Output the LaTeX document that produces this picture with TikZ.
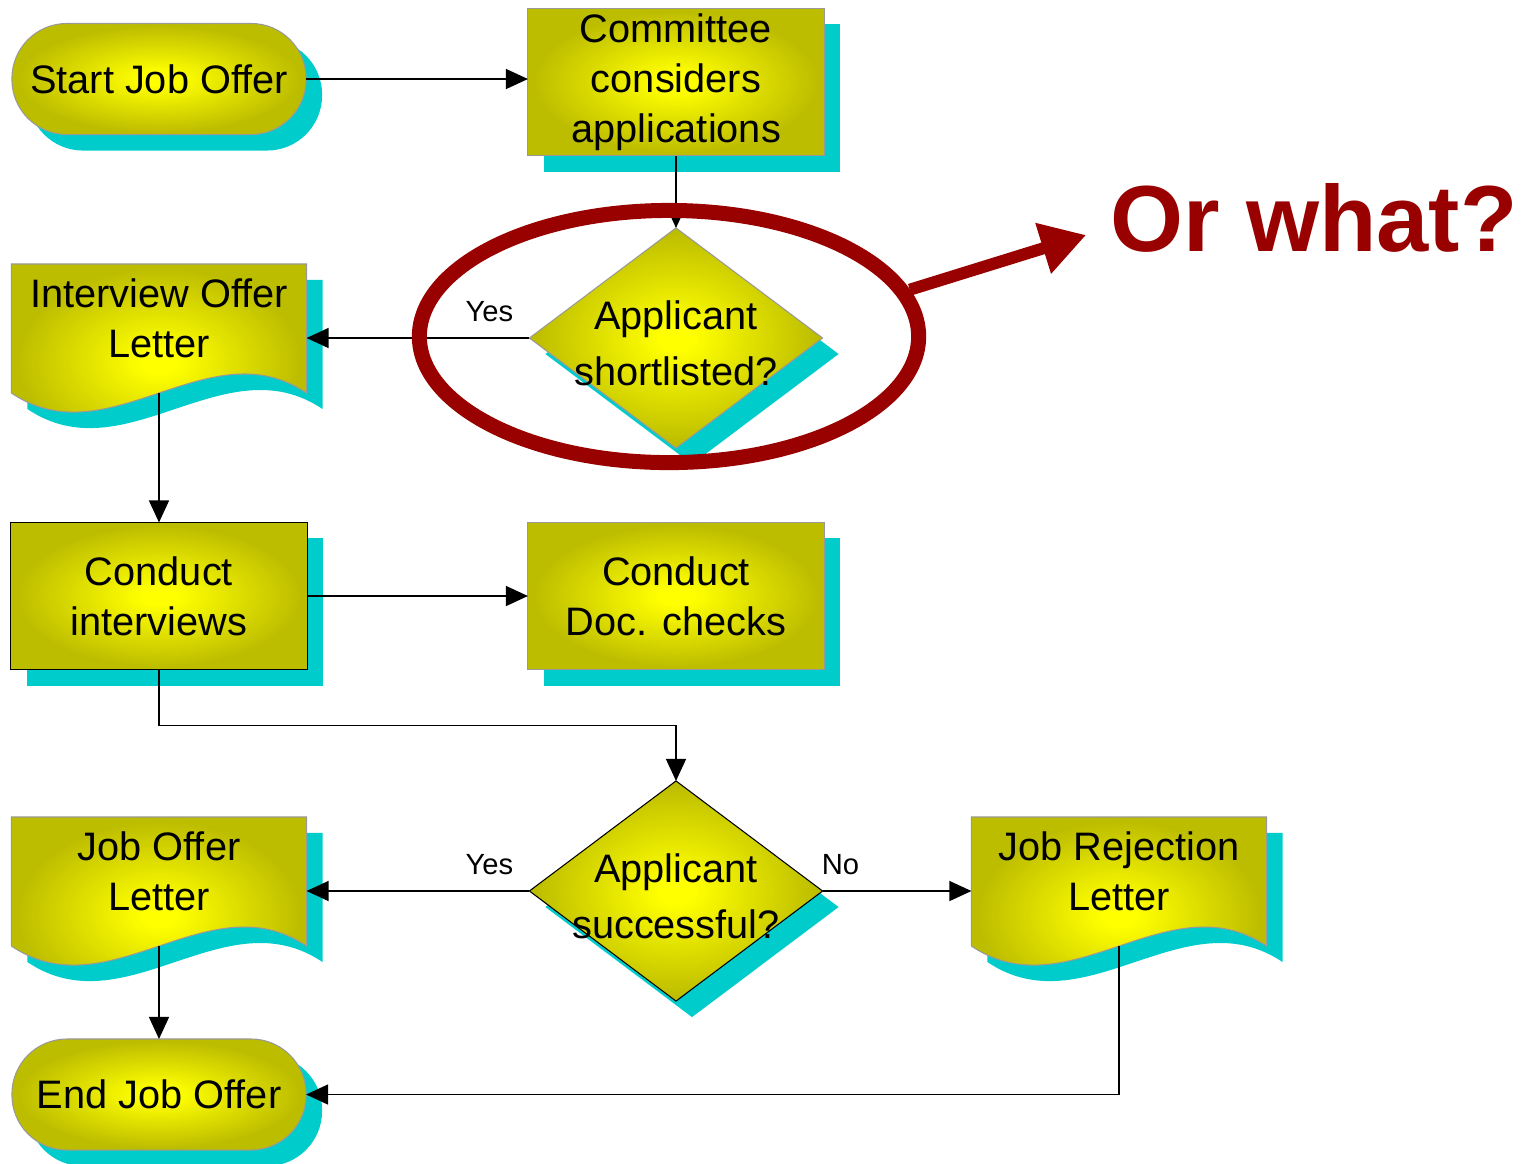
\documentclass[tikz,border=0pt]{standalone}
\usepackage{fontspec}
\setmainfont{Liberation Sans}
\usetikzlibrary{shapes.geometric,arrows.meta,calc,shadows}
\definecolor{olivebox}{RGB}{189,189,0}
\definecolor{shadowcyan}{RGB}{0,204,204}
\definecolor{alertred}{RGB}{153,0,0}
\pgfdeclareradialshading{glow}{\pgfpoint{0bp}{0bp}}{color(0bp)=(yellow); color(3bp)=(yellow); color(24bp)=(olivebox); color(50bp)=(olivebox)}
\pgfdeclarelayer{background}
\pgfsetlayers{background,main}
\tikzset{
box/.style = {shade, shading=glow, draw=black!40, line width=0.3pt, outer sep=0pt, inner sep=1pt, align=center,
  font=\fontsize{11.3pt}{14.2pt}\selectfont,
  drop shadow={shadow xshift=0.16cm, shadow yshift=-0.16cm, fill=shadowcyan, opacity=1}},
terminal/.style = {box, rectangle, rounded corners=0.55cm, minimum width=2.94cm, minimum height=1.11cm},
process/.style = {box, rectangle, minimum width=2.96cm, minimum height=1.47cm},
decision/.style = {box, diamond, minimum width=2.93cm, minimum height=2.2cm, inner sep=0pt},
letter/.style = {rectangle, outer sep=0pt, inner sep=1pt, align=center, minimum width=2.95cm, minimum height=1.29cm,
  font=\fontsize{11.3pt}{14.2pt}\selectfont},
qtext/.style = {align=center, yshift=-0.05cm, font=\fontsize{11.3pt}{15.9pt}\selectfont},
branch/.style = {above, yshift=0.04cm, font=\fontsize{8.3pt}{10pt}\selectfont},
ring/.style = {ellipse, draw=alertred, line width=0.15cm, minimum width=4.99cm, minimum height=2.52cm},
remark/.style = {text=alertred, font=\bfseries\fontsize{26.7pt}{32pt}\selectfont},
bigarrow/.style = {draw=alertred, line width=0.12cm, -{Triangle[length=0.45cm,width=0.5cm]}}
}
\newcommand{\wavegap}{\rule[-0.2cm]{0pt}{0pt}}
\newcommand{\drawletter}[1]{%
  \begin{pgfonlayer}{background}
    \fill [shadowcyan, transform canvas={shift={(16,16)}}] (#1.north west) -- (#1.south west)
      .. controls +(98,66) and +(-98,-66) .. (#1.south east) -- (#1.north east) -- cycle;
    \shadedraw [shading=glow, draw=black!40, line width=0.3pt] (#1.north west) -- (#1.south west)
      .. controls +(98,66) and +(-98,-66) .. (#1.south east) -- (#1.north east) -- cycle;
  \end{pgfonlayer}}

\begin{document}
\begin{tikzpicture}[x=0.01cm, y=-0.01cm, >={Triangle[length=0.22cm,width=0.2cm]}, line width=0.4pt]
    \useasboundingbox (0,0) rectangle (1534,1163);
    \node [terminal] (start) at (159,79) {Start Job Offer};
    \node [process] (cca) at (676,82) {Committee\\considers\\applications};
    \node [decision, label={[qtext]center:Applicant\\shortlisted?}] (d1) at (676,338) {};
    \node [letter] (iol) at (159,328.5) {Interview Offer\\Letter\wavegap};
    \node [process, draw=black] (ci) at (159,596) {Conduct\\interviews};
    \node [process] (dc) at (676,596) {Conduct\\Doc. checks};
    \node [decision, draw=black, label={[qtext]center:Applicant\\successful?}] (d2) at (676,891) {};
    \node [letter] (jol) at (159,881.5) {Job Offer\\Letter\wavegap};
    \node [letter] (jrl) at (1119,881.5) {Job Rejection\\Letter\wavegap};
    \node [terminal] (endj) at (159,1094.5) {End Job Offer};
    \drawletter{iol}
    \drawletter{jol}
    \drawletter{jrl}
    % flow
    \draw [->] (start) -- (start -| cca.west);
    \draw [->] (cca) -- (d1);
    \draw [->] (d1.west) -- node[branch, pos=0.18]{Yes} (d1.west -| iol.east);
    \draw [->] (iol) -- (ci);
    \draw [->] (ci) -- (dc);
    \draw [->] (ci.south) -- ++(0,56) -| (d2.north);
    \draw [->] (d2.west) -- node[branch, pos=0.18]{Yes} (d2.west -| jol.east);
    \draw [->] (d2.east) -- node[branch, pos=0.12]{No} (d2.east -| jrl.west);
    \draw [->] (jol) -- (endj);
    \draw [->] (jrl.south) |- (endj);
    % the question
    \node [ring] (hl) at (669,336.5) {};
    \node [remark] (orwhat) at (1314,218) {Or what?};
    \draw [bigarrow] (hl.11) -- ([shift={(-12,17)}]orwhat.west);
\end{tikzpicture}
\end{document}
